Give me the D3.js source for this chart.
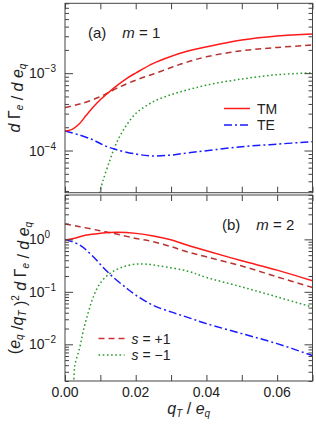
<!DOCTYPE html>
<html>
<head>
<script src="https://d3js.org/d3.v7.min.js"></script>
<style>
body { margin: 0; background: white; font-family: "Liberation Sans", Arial, Helvetica, sans-serif; }
</style>
</head>
<body>
<div id="chart"></div>
<script>
// panel (a), m = 1 : [qT/eq, value]
const aTM = [[0,1.79e-4],[0.002,1.88e-4],[0.004,2.2e-4],[0.006,2.85e-4],[0.008,3.65e-4],[0.0099,4.5e-4],[0.0137,6.37e-4],[0.0175,8.57e-4],[0.0201,1.01e-3],[0.025,1.34e-3],[0.0302,1.66e-3],[0.0345,1.92e-3],[0.04,2.19e-3],[0.05,2.68e-3],[0.06,3.02e-3],[0.07,3.2e-3]];
const aSplus = [[0,3.61e-4],[0.0042,3.99e-4],[0.0099,4.95e-4],[0.0146,6.37e-4],[0.0201,8.15e-4],[0.025,9.75e-4],[0.0302,1.19e-3],[0.0345,1.39e-3],[0.04,1.63e-3],[0.05,1.95e-3],[0.06,2.15e-3],[0.07,2.31e-3]];
const aSminus = [[0.0097,2.8e-5],[0.0108,4.16e-5],[0.0127,7.5e-5],[0.0141,1.12e-4],[0.0165,1.84e-4],[0.0201,3.03e-4],[0.025,4.28e-4],[0.0302,5.32e-4],[0.0345,6.05e-4],[0.04,7.0e-4],[0.05,8.4e-4],[0.06,9.55e-4],[0.07,1.01e-3]];
const aTE = [[0,1.79e-4],[0.0042,1.58e-4],[0.008,1.37e-4],[0.0108,1.18e-4],[0.0141,1.04e-4],[0.0201,9.0e-5],[0.025,8.5e-5],[0.0302,8.75e-5],[0.0345,9.3e-5],[0.04,9.95e-5],[0.05,1.12e-4],[0.06,1.21e-4],[0.07,1.3e-4]];

// panel (b), m = 2
const bTM = [[0,0.97],[0.0024,1.04],[0.0061,1.21],[0.0099,1.30],[0.0146,1.36],[0.0201,1.30],[0.025,1.16],[0.0302,0.97],[0.0345,0.78],[0.04,0.605],[0.05,0.39],[0.06,0.259],[0.07,0.162]];
const bSplus = [[0,1.96],[0.0042,1.74],[0.0099,1.46],[0.0146,1.26],[0.0201,1.04],[0.025,0.9],[0.0302,0.72],[0.0345,0.58],[0.04,0.465],[0.05,0.31],[0.06,0.193],[0.07,0.121]];
const bSminus = [[0.0025,1.8e-3],[0.0028,4.0e-3],[0.0042,8.85e-3],[0.0052,0.0184],[0.0066,0.041],[0.008,0.08],[0.0099,0.144],[0.0127,0.224],[0.0165,0.3],[0.0201,0.337],[0.0231,0.337],[0.0269,0.31],[0.0345,0.25],[0.04,0.188],[0.05,0.124],[0.06,0.08],[0.07,0.051]];
const bTE = [[0,1.0],[0.0042,0.78],[0.008,0.465],[0.0108,0.291],[0.0137,0.188],[0.0175,0.116],[0.0201,0.086],[0.025,0.055],[0.0302,0.041],[0.0345,0.033],[0.04,0.0248],[0.05,0.016],[0.06,0.0103],[0.07,0.0061]];

const xTicks = [0, 0.01, 0.02, 0.03, 0.04, 0.05, 0.06, 0.07];
const xTickLabels = [0, 0.02, 0.04, 0.06];

const width = 316, height = 428;
const marginLeft = 65, marginRight = 3.5;

const svg = d3.select("#chart").append("svg")
    .attr("width", width)
    .attr("height", height)
    .attr("viewBox", [0, 0, width, height]);

const x = d3.scaleLinear()
    .domain([0, 0.07])
    .range([marginLeft, width - marginRight]);

const panels = [
  { id: "a", top: 3.3, bottom: 192.7, domain: [2.85e-5, 8e-3],
    series: [
      { d: aSplus, color: "#b83232", dash: "6,4" },
      { d: aSminus, color: "#2a9a2a", dash: "1.6,2.6" },
      { d: aTE, color: "#1a1aff", dash: "8,3,2,3" },
      { d: aTM, color: "#ff1a1a", dash: null }
    ] },
  { id: "b", top: 195, bottom: 381, domain: [2e-3, 7],
    series: [
      { d: bSplus, color: "#b83232", dash: "6,4" },
      { d: bSminus, color: "#2a9a2a", dash: "1.6,2.6" },
      { d: bTE, color: "#1a1aff", dash: "8,3,2,3" },
      { d: bTM, color: "#ff1a1a", dash: null }
    ] }
];

const frameColor = "#444";

panels.forEach(p => {
  const y = d3.scaleLog().domain(p.domain).range([p.bottom, p.top]);
  p.y = y;
  const all = y.ticks();
  const major = all.filter(v => Math.abs(Math.log10(v) - Math.round(Math.log10(v))) < 1e-9);
  const minor = all.filter(v => !major.includes(v));

  svg.append("clipPath").attr("id", "clip-" + p.id)
    .append("rect")
      .attr("x", marginLeft).attr("y", p.top)
      .attr("width", width - marginRight - marginLeft)
      .attr("height", p.bottom - p.top);

  const line = d3.line()
      .x(d => x(d[0]))
      .y(d => y(d[1]))
      .curve(d3.curveCatmullRom.alpha(0.5));

  const g = svg.append("g").attr("clip-path", `url(#clip-${p.id})`);
  p.series.forEach(s => {
    g.append("path")
      .datum(s.d)
      .attr("fill", "none")
      .attr("stroke", s.color)
      .attr("stroke-width", 1.5)
      .attr("stroke-dasharray", s.dash)
      .attr("d", line);
  });

  // inward ticks on all four sides
  const axisStyle = sel => sel
      .call(s => s.select(".domain").remove())
      .call(s => s.selectAll(".tick line").attr("stroke", frameColor));

  svg.append("g").attr("transform", `translate(0,${p.bottom})`)
      .call(d3.axisBottom(x).tickValues(xTicks).tickSize(-6).tickFormat(""))
      .call(axisStyle);
  svg.append("g").attr("transform", `translate(0,${p.top})`)
      .call(d3.axisTop(x).tickValues(xTicks).tickSize(-6).tickFormat(""))
      .call(axisStyle);
  [[marginLeft, d3.axisLeft], [width - marginRight, d3.axisRight]].forEach(([pos, ax]) => {
    svg.append("g").attr("transform", `translate(${pos},0)`)
        .call(ax(y).tickValues(major).tickSize(-8).tickFormat(""))
        .call(axisStyle);
    svg.append("g").attr("transform", `translate(${pos},0)`)
        .call(ax(y).tickValues(minor).tickSize(-4).tickFormat(""))
        .call(axisStyle);
  });

  svg.append("rect")
      .attr("x", marginLeft).attr("y", p.top)
      .attr("width", width - marginRight - marginLeft)
      .attr("height", p.bottom - p.top)
      .attr("fill", "none")
      .attr("stroke", frameColor)
      .attr("stroke-width", 1);

  // 10^n labels
  major.forEach(v => {
    const e = Math.round(Math.log10(v));
    const t = svg.append("text")
        .attr("x", 29)
        .attr("y", y(v) + 5)
        .attr("font-size", 14)
        .attr("fill", "#222");
    t.append("tspan").text("10");
    t.append("tspan").attr("dy", -6).attr("font-size", 10)
        .text(e < 0 ? "\u2212" + Math.abs(e) : e);
  });
});

// x tick labels
svg.append("g")
  .selectAll("text")
  .data(xTickLabels)
  .join("text")
    .attr("x", d => x(d))
    .attr("y", 397)
    .attr("text-anchor", "middle")
    .attr("font-size", 14)
    .attr("fill", "#222")
    .text(d => d.toFixed(2));

// x label
const xl = svg.append("text")
    .attr("x", x(0.035))
    .attr("y", 414)
    .attr("text-anchor", "middle")
    .attr("font-size", 16)
    .attr("fill", "#222");
xl.append("tspan").attr("font-style", "italic").text("q");
xl.append("tspan").attr("font-style", "italic").attr("font-size", 10).attr("dy", 3).text("T");
xl.append("tspan").attr("dy", -3).text(" / ");
xl.append("tspan").attr("font-style", "italic").text("e");
xl.append("tspan").attr("font-style", "italic").attr("font-size", 10).attr("dy", 3).text("q");

// y labels
function sub(t, s) {
  t.append("tspan").attr("font-style", "italic").attr("font-size", 10).attr("dy", 3).text(s);
  t.append("tspan").attr("dy", -3).text("");
}
const ya = svg.append("text")
    .attr("transform", `translate(20,${(panels[0].top + panels[0].bottom) / 2}) rotate(-90)`)
    .attr("text-anchor", "middle")
    .attr("font-size", 16)
    .attr("fill", "#222");
ya.append("tspan").attr("font-style", "italic").text("d ");
ya.append("tspan").text("\u0393");
sub(ya, "e");
ya.append("tspan").text(" / ");
ya.append("tspan").attr("font-style", "italic").text("d e");
sub(ya, "q");

const yb = svg.append("text")
    .attr("transform", `translate(20,${(panels[1].top + panels[1].bottom) / 2}) rotate(-90)`)
    .attr("text-anchor", "middle")
    .attr("font-size", 16)
    .attr("fill", "#222");
yb.append("tspan").text("(");
yb.append("tspan").attr("font-style", "italic").text("e");
sub(yb, "q");
yb.append("tspan").text(" /");
yb.append("tspan").attr("font-style", "italic").text("q");
sub(yb, "T");
yb.append("tspan").text(" )");
yb.append("tspan").attr("font-size", 10).attr("dy", -7).text("2");
yb.append("tspan").attr("dy", 7).attr("font-style", "italic").text(" d ");
yb.append("tspan").text("\u0393");
sub(yb, "e");
yb.append("tspan").text(" / ");
yb.append("tspan").attr("font-style", "italic").text("d e");
sub(yb, "q");

// panel labels
function panelLabel(px, py, tag, m) {
  const t = svg.append("text").attr("x", px).attr("y", py).attr("font-size", 15).attr("fill", "#222");
  t.append("tspan").text(tag);
  t.append("tspan").attr("dx", 16).attr("font-style", "italic").text("m");
  t.append("tspan").text(" = " + m);
}
panelLabel(88, 38, "(a)", 1);
panelLabel(222, 230, "(b)", 2);

// legends
function legendRow(lx, ly, color, dash, build) {
  svg.append("line")
      .attr("x1", lx).attr("x2", lx + 26)
      .attr("y1", ly).attr("y2", ly)
      .attr("stroke", color).attr("stroke-width", 1.5)
      .attr("stroke-dasharray", dash);
  const t = svg.append("text").attr("x", lx + 33).attr("y", ly + 5).attr("font-size", 14).attr("fill", "#222");
  build(t);
}
legendRow(224, 108.5, "#ff1a1a", null, t => t.text("TM"));
legendRow(224, 125, "#1a1aff", "8,3,2,3", t => t.text("TE"));
legendRow(98.5, 338.5, "#d03030", "6,4", t => {
  t.append("tspan").attr("font-style", "italic").text("s");
  t.append("tspan").text(" = +1");
});
legendRow(98.5, 355, "#2a9a2a", "1.6,2.6", t => {
  t.append("tspan").attr("font-style", "italic").text("s");
  t.append("tspan").text(" = \u22121");
});
</script>
</body>
</html>
